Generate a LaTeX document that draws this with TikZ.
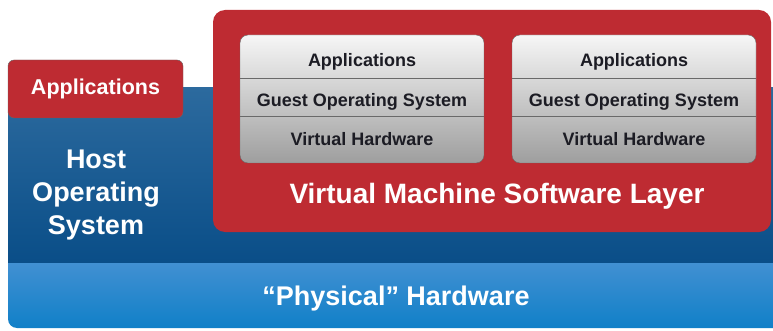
\documentclass[tikz,border=0pt]{standalone}
\usepackage{fontspec}
\setmainfont{Liberation Sans}

\definecolor{vmred}{RGB}{190,43,50}
\definecolor{hostblueA}{RGB}{44,106,158}
\definecolor{hostblueB}{RGB}{10,78,136}
\definecolor{physblueA}{RGB}{66,144,210}
\definecolor{physblueB}{RGB}{16,128,200}
\definecolor{guestA}{RGB}{246,246,246}
\definecolor{guestB}{RGB}{158,158,158}
\definecolor{guestline}{RGB}{105,105,105}
\definecolor{guestink}{RGB}{28,28,36}

\begin{document}
\begin{tikzpicture}[x=1pt,y=-1pt,
  whitelabel/.style={text=white, font=\bfseries, inner sep=0pt},
  guestlabel/.style={text=guestink, anchor=base, inner sep=0pt,
    font=\fontsize{18}{18}\selectfont\bfseries}]
\useasboundingbox (0,0) rectangle (773,331);

%physical hardware
\shade[top color=physblueA, bottom color=physblueB]
  (8,262) [rounded corners=9pt] -- (8,328) [sharp corners] -- (773,328) -- (773,262) -- cycle;
\node[whitelabel, anchor=base, font=\fontsize{27}{27}\selectfont\bfseries] (phys) at (396,305)
  {\char"201C Physical\char"201D{} Hardware};

%host operating system
\shade[top color=hostblueA, bottom color=hostblueB] (8,88) rectangle (773,262);
\node[whitelabel, align=center, font=\fontsize{27}{33}\selectfont\bfseries] (host) at (96,195)
  {Host\\Operating\\System};

% applications on the host
\draw[fill=vmred, draw=gray!80!black, rounded corners=6pt] (8,60) rectangle (183,118);
\node[whitelabel, anchor=base, font=\fontsize{21.5}{21.5}\selectfont\bfseries] (hostapps) at (95.5,95)
  {Applications};

%virtual machine software layer
\fill[vmred, rounded corners=12pt] (213,10) rectangle (771,232);
\node[whitelabel, anchor=base, font=\fontsize{28}{28}\selectfont\bfseries] (vmlayer) at (497,204)
  {Virtual Machine Software Layer};

%guest machines
\foreach \gx/\gn in {240/A,512/B}{
  \shade[top color=guestA, bottom color=guestB, draw=guestline, rounded corners=8pt]
    (\gx,35) rectangle ++(244,128);
  \draw[guestline] (\gx,78) -- ++(244,0);
  \draw[guestline] (\gx,116) -- ++(244,0);
  \node[guestlabel] (apps\gn) at (\gx+122,67) {Applications};
  \node[guestlabel] (guestos\gn) at (\gx+122,107) {Guest Operating System};
  \node[guestlabel] (virthw\gn) at (\gx+122,146) {Virtual Hardware};
}

\end{tikzpicture}
\end{document}
